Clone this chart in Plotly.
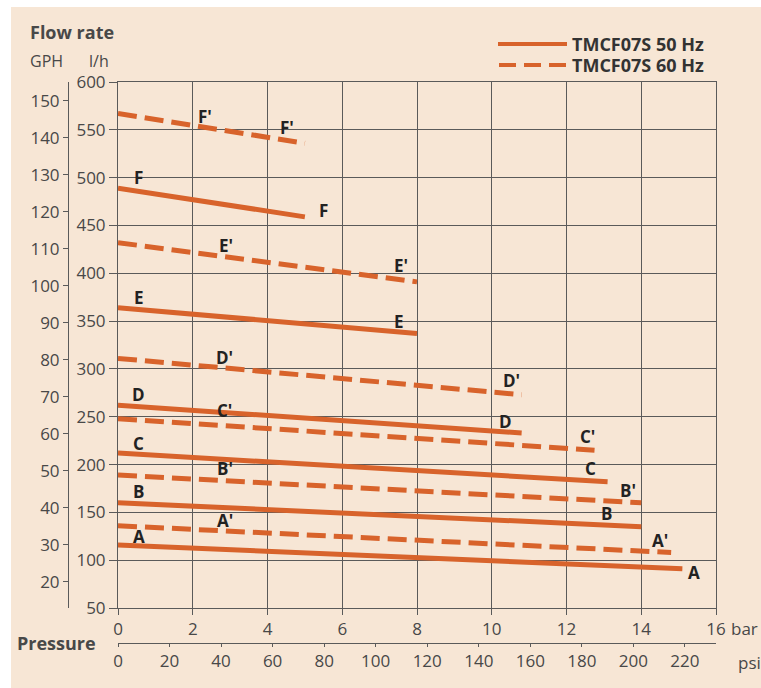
import plotly.graph_objects as go

# ---------------- data ----------------
curves = ["A", "B", "C", "D", "E", "F"]
# 50 Hz (solid): pressure range end (bar) and flow (l/h) at start / end
p50_end = [15.1, 14.0, 13.1, 10.8, 8.0, 5.0]
q50_start = [116, 160, 212, 262, 364, 489]
q50_end = [91, 135, 182, 233, 337, 459]
# 60 Hz (dashed)
p60_end = [14.8, 14.0, 12.75, 10.8, 8.0, 5.0]
q60_start = [136, 189, 248, 311, 432, 567]
q60_end = [108, 160, 215, 273, 391, 536]

bar_ticks = [0, 2, 4, 6, 8, 10, 12, 14, 16]
lh_ticks = [50, 100, 150, 200, 250, 300, 350, 400, 450, 500, 550, 600]
gph_ticks = [20, 30, 40, 50, 60, 70, 80, 90, 100, 110, 120, 130, 140, 150]
psi_ticks = [0, 20, 40, 60, 80, 100, 120, 140, 160, 180, 200, 220]
legend_names = ["TMCF07S 50 Hz", "TMCF07S 60 Hz"]

# curve letter label anchors (bar, l/h)
lab50_start = [(0.55, 125), (0.55, 172), (0.55, 222), (0.55, 273), (0.55, 375), (0.55, 500)]
lab50_end = [(15.4, 87), (13.07, 149), (12.65, 196), (10.37, 245), (7.51, 350), (5.5, 466)]
lab60_start = [(2.86, 142), (2.86, 196), (2.86, 256), (2.86, 312), (2.89, 429), (2.33, 564)]
lab60_end = [(14.5, 121), (13.64, 173), (12.57, 229), (10.53, 288), (7.57, 408), (4.52, 552)]

LH_PER_GPH = 3.87
BAR_TO_PSI = 14.5038

# ---------------- styling ----------------
ORANGE = "#d8632b"
BEIGE = "#f7e6d5"
GRID = "#5a5a5a"
TXT = "#484848"
FONT = "Open Sans"

W, H = 761, 688
OFF = 0  # body margin removed by post_script
ML, MR, MT, MB = 10, 10, 10, 10
PW, PH = W - ML - MR, H - MT - MB


def px2x(px):
    return (px - OFF - ML) / PW


def py2y(py):
    return (H - MB - (py - OFF)) / PH


fig = go.Figure()

for i, c in enumerate(curves):
    fig.add_trace(go.Scatter(
        x=[0, p60_end[i]], y=[q60_start[i], q60_end[i]], mode="lines",
        line=dict(color=ORANGE, width=5, dash="19px,8px"),
        showlegend=False, hoverinfo="skip"))
for i, c in enumerate(curves):
    fig.add_trace(go.Scatter(
        x=[0, p50_end[i]], y=[q50_start[i], q50_end[i]], mode="lines",
        line=dict(color=ORANGE, width=5),
        showlegend=False, hoverinfo="skip"))

LBL = dict(family=FONT, size=17, color="#222")
annotations = []
for i, c in enumerate(curves):
    for (xx, yy) in (lab50_start[i], lab50_end[i]):
        annotations.append(dict(x=xx, y=yy, xref="x", yref="y", text=f"<b>{c}</b>",
                                showarrow=False, font=LBL))
    for (xx, yy) in (lab60_start[i], lab60_end[i]):
        annotations.append(dict(x=xx, y=yy, xref="x", yref="y", text=f"<b>{c}'</b>",
                                showarrow=False, font=LBL))

# header / axis titles
annotations += [
    dict(x=px2x(28), y=py2y(32), xref="paper", yref="paper", text="<b>Flow rate</b>",
         xanchor="left", yanchor="middle", showarrow=False,
         font=dict(family=FONT, size=18, color=TXT)),
    dict(x=px2x(28), y=py2y(61), xref="paper", yref="paper", text="GPH",
         xanchor="left", yanchor="middle", showarrow=False,
         font=dict(family=FONT, size=16, color=TXT)),
    dict(x=px2x(87), y=py2y(61), xref="paper", yref="paper", text="l/h",
         xanchor="left", yanchor="middle", showarrow=False,
         font=dict(family=FONT, size=16, color=TXT)),
    dict(x=px2x(15), y=py2y(643), xref="paper", yref="paper", text="<b>Pressure</b>",
         xanchor="left", yanchor="middle", showarrow=False,
         font=dict(family=FONT, size=18, color=TXT)),
    dict(x=px2x(729), y=py2y(628), xref="paper", yref="paper", text="bar",
         xanchor="left", yanchor="middle", showarrow=False,
         font=dict(family=FONT, size=17, color=TXT)),
    dict(x=px2x(736), y=py2y(662), xref="paper", yref="paper", text="psi",
         xanchor="left", yanchor="middle", showarrow=False,
         font=dict(family=FONT, size=17, color=TXT)),
]

# legend (drawn manually)
shapes = [
    dict(type="rect", xref="paper", yref="paper", x0=px2x(11), x1=px2x(W + 20),
         y0=py2y(7), y1=py2y(H + 20), fillcolor=BEIGE, line=dict(width=0), layer="below"),
    dict(type="line", xref="paper", yref="paper", x0=px2x(498), x1=px2x(567),
         y0=py2y(44), y1=py2y(44), line=dict(color=ORANGE, width=4)),
    dict(type="line", xref="paper", yref="paper", x0=px2x(499), x1=px2x(568),
         y0=py2y(65), y1=py2y(65), line=dict(color=ORANGE, width=4, dash="17px,8px")),
]
for k, name in enumerate(legend_names):
    annotations.append(dict(x=px2x(570), y=py2y(44 + 21 * k), xref="paper", yref="paper",
                            text=f"<b>{name}</b>", xanchor="left", yanchor="middle",
                            showarrow=False, font=dict(family=FONT, size=18, color="#333")))

TICKF = dict(family=FONT, size=17, color=TXT)
fig.update_layout(
    template="none",
    width=W, height=H,
    margin=dict(l=ML, r=MR, t=MT, b=MB, autoexpand=False),
    paper_bgcolor="white", plot_bgcolor="white",
    showlegend=False,
    font=dict(family=FONT, size=17, color=TXT),
    xaxis=dict(domain=[px2x(118), px2x(716)], range=[0, 16], tickvals=bar_ticks,
               automargin=False,
               showgrid=True, gridcolor=GRID, gridwidth=1, zeroline=False,
               showline=True, linecolor=GRID, linewidth=1, mirror=True,
               ticks="outside", ticklen=6, tickcolor=GRID, tickfont=TICKF),
    yaxis=dict(domain=[py2y(608), py2y(82)], range=[50, 600], tickvals=lh_ticks,
               automargin=False,
               showgrid=True, gridcolor=GRID, gridwidth=1, zeroline=False,
               showline=True, linecolor=GRID, linewidth=1, mirror=True,
               ticks="outside", ticklen=8, tickcolor=GRID, tickfont=TICKF),
    yaxis2=dict(overlaying="y", anchor="free", position=px2x(68), side="left",
                automargin=False,
                range=[50 / LH_PER_GPH, 600 / LH_PER_GPH], tickvals=gph_ticks,
                showgrid=False, zeroline=False, showline=True, linecolor=GRID, linewidth=1,
                ticks="outside", ticklen=5, tickcolor=GRID, tickfont=TICKF),
    xaxis2=dict(overlaying="x", anchor="free", position=py2y(643), side="bottom",
                automargin=False,
                range=[0, 16 * BAR_TO_PSI], tickvals=psi_ticks,
                showgrid=False, zeroline=False, showline=True, linecolor=GRID, linewidth=1,
                ticks="outside", ticklen=3, tickcolor=GRID, tickfont=TICKF),
    annotations=annotations,
    shapes=shapes,
)

# dummy traces to activate secondary axes
fig.add_trace(go.Scatter(x=[None], y=[None], yaxis="y2", showlegend=False, hoverinfo="skip"))
fig.add_trace(go.Scatter(x=[None], y=[None], xaxis="x2", showlegend=False, hoverinfo="skip"))

fig.write_html("out.html",
               config={"displayModeBar": False},
               post_script="document.body.style.margin='0px';"
                           "document.body.style.overflow='hidden';")
